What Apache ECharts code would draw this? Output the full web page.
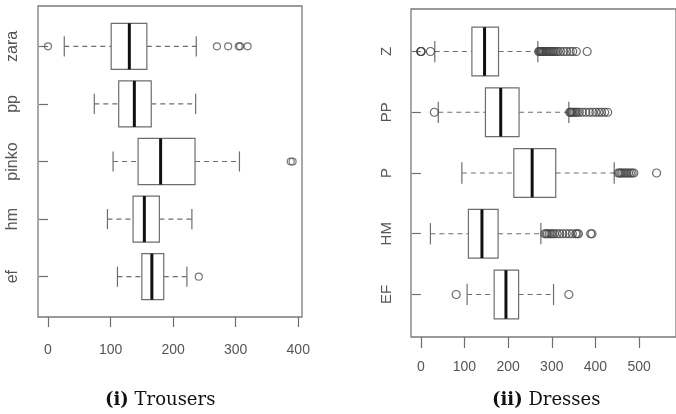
<!DOCTYPE html>
<html>
<head>
<meta charset="utf-8">
<script src="https://cdn.jsdelivr.net/npm/echarts@6/dist/echarts.min.js"></script>
<style>
  html, body { margin: 0; padding: 0; background: #fff; }
  #chart { width: 676px; height: 414px; }
</style>
</head>
<body>
<div id="chart"></div>
<script>
// trousers (left panel), top to bottom
const trouserNames = ['zara', 'pp', 'pinko', 'hm', 'ef']
const trouserLow = [26, 74, 104, 95, 111]
const trouserQ1 = [101, 113, 144, 136, 150]
const trouserMedian = [130, 138, 180, 154, 166]
const trouserQ3 = [158, 165, 235, 178, 185]
const trouserHigh = [237, 236, 306, 230, 222]
const trouserOutliers = [
  [0, 270, 288, 305, 307, 319],
  [],
  [388, 391],
  [],
  [241]
]
const trouserTicks = [0, 100, 200, 300, 400]

// dresses (right panel), top to bottom
const dressNames = ['Z', 'PP', 'P', 'HM', 'EF']
const dressLow = [32, 40, 94, 22, 106]
const dressQ1 = [117, 148, 213, 109, 168]
const dressMedian = [146, 183, 255, 140, 195]
const dressQ3 = [178, 225, 309, 177, 224]
const dressHigh = [268, 339, 443, 275, 304]
const dressOutliers = [
  [0, 0, 1, 22, 270, 272, 274, 276, 278, 280, 282, 285, 288, 291, 294, 297, 300, 303, 306, 310, 314, 320, 327, 334, 342, 348, 356, 381],
  [31, 341, 343, 345, 348, 351, 355, 358, 363, 370, 378, 386, 394, 401, 408, 414, 421, 428],
  [452, 455, 458, 461, 465, 469, 472, 476, 480, 484, 488, 540],
  [284, 287, 290, 294, 298, 302, 306, 312, 318, 325, 333, 340, 347, 355, 358, 361, 389, 392],
  [81, 339]
]
const dressTicks = [0, 100, 200, 300, 400, 500]

const groupPos = [1, 2, 3, 4, 5]

const lineCol = '#6e6e6e'
const textCol = '#555'
const sansFont = '"Liberation Sans", Arial, sans-serif'

function boxRows(low, q1, med, q3, high) {
  return groupPos.map((p, i) => [p, low[i], q1[i], med[i], q3[i], high[i]])
}
function outlierRows(list) {
  const rows = []
  list.forEach((vals, i) => vals.forEach(v => rows.push([v, groupPos[i]])))
  return rows
}

function renderBox(params, api) {
  const pos = api.value(0)
  const lo = api.coord([api.value(1), pos])
  const q1 = api.coord([api.value(2), pos])
  const md = api.coord([api.value(3), pos])
  const q3 = api.coord([api.value(4), pos])
  const hi = api.coord([api.value(5), pos])
  const half = api.size([0, 0.8])[1] / 2
  const cap = api.size([0, 0.35])[1] / 2
  const y = md[1]
  const solid = {stroke: lineCol, lineWidth: 1.2, fill: null}
  const dashed = {stroke: lineCol, lineWidth: 1.2, lineDash: [5, 4]}
  return {
    type: 'group',
    children: [
      {type: 'line', shape: {x1: lo[0], y1: y, x2: q1[0], y2: y}, style: dashed},
      {type: 'line', shape: {x1: q3[0], y1: y, x2: hi[0], y2: y}, style: dashed},
      {type: 'line', shape: {x1: lo[0], y1: y - cap, x2: lo[0], y2: y + cap}, style: solid},
      {type: 'line', shape: {x1: hi[0], y1: y - cap, x2: hi[0], y2: y + cap}, style: solid},
      {type: 'rect', shape: {x: q1[0], y: y - half, width: q3[0] - q1[0], height: half * 2}, style: {stroke: lineCol, lineWidth: 1.2, fill: '#fff'}},
      {type: 'line', shape: {x1: md[0], y1: y - half, x2: md[0], y2: y + half}, style: {stroke: '#111', lineWidth: 3}}
    ]
  }
}

function xAxisFor(idx, min, max, ticks, tickLen, margin) {
  return {
    type: 'value', gridIndex: idx, min: min, max: max,
    axisLine: {show: false},
    splitLine: {show: false},
    axisTick: {show: true, length: tickLen, customValues: ticks, lineStyle: {color: lineCol, width: 1.2}},
    axisLabel: {customValues: ticks, margin: margin, color: textCol, fontSize: 14, fontFamily: sansFont}
  }
}
function yAxisFor(idx, names, fontSize, margin) {
  return {
    type: 'value', gridIndex: idx, min: 0.3, max: 5.7, inverse: true,
    axisLine: {show: false},
    splitLine: {show: false},
    axisTick: {show: true, length: 9, customValues: groupPos, lineStyle: {color: lineCol, width: 1.2}},
    axisLabel: {
      customValues: groupPos, rotate: 90, margin: margin, color: textCol,
      fontSize: fontSize, fontFamily: sansFont,
      formatter: v => names[Math.round(v) - 1]
    }
  }
}

const chart = echarts.init(document.getElementById('chart'))
chart.setOption({
  animation: false,
  backgroundColor: '#fff',
  title: [
    {
      text: '{b|(i)} Trousers', left: 100, top: 386,
      textStyle: {fontFamily: '"DejaVu Serif", serif', fontSize: 18, fontWeight: 'normal', color: '#111',
        rich: {b: {fontFamily: '"DejaVu Serif", serif', fontSize: 18, fontWeight: 'bold', color: '#111'}}}
    },
    {
      text: '{b|(ii)} Dresses', left: 487, top: 386,
      textStyle: {fontFamily: '"DejaVu Serif", serif', fontSize: 18, fontWeight: 'normal', color: '#111',
        rich: {b: {fontFamily: '"DejaVu Serif", serif', fontSize: 18, fontWeight: 'bold', color: '#111'}}}
    }
  ],
  grid: [
    {left: 38, right: 374, top: 6, bottom: 97, show: true, borderColor: '#7a7a7a', borderWidth: 1.3, backgroundColor: 'transparent'},
    {left: 411, right: -16, top: 9, bottom: 77, show: true, borderColor: '#7a7a7a', borderWidth: 1.3, backgroundColor: 'transparent'}
  ],
  xAxis: [
    xAxisFor(0, -16, 406, trouserTicks, 10, 26),
    xAxisFor(1, -22.5, 584.5, dressTicks, 11, 23)
  ],
  yAxis: [
    yAxisFor(0, trouserNames, 16, 17),
    yAxisFor(1, dressNames, 15, 17)
  ],
  series: [
    {
      type: 'custom', xAxisIndex: 0, yAxisIndex: 0,
      renderItem: renderBox,
      encode: {x: [1, 2, 3, 4, 5], y: 0},
      data: boxRows(trouserLow, trouserQ1, trouserMedian, trouserQ3, trouserHigh)
    },
    {
      type: 'scatter', xAxisIndex: 0, yAxisIndex: 0,
      symbol: 'circle', symbolSize: 7,
      itemStyle: {color: 'transparent', borderColor: '#555', borderWidth: 1.2},
      data: outlierRows(trouserOutliers)
    },
    {
      type: 'custom', xAxisIndex: 1, yAxisIndex: 1,
      renderItem: renderBox,
      encode: {x: [1, 2, 3, 4, 5], y: 0},
      data: boxRows(dressLow, dressQ1, dressMedian, dressQ3, dressHigh)
    },
    {
      type: 'scatter', xAxisIndex: 1, yAxisIndex: 1,
      symbol: 'circle', symbolSize: 8,
      itemStyle: {color: 'transparent', borderColor: '#444', borderWidth: 1.2},
      data: outlierRows(dressOutliers)
    }
  ]
})
</script>
</body>
</html>
